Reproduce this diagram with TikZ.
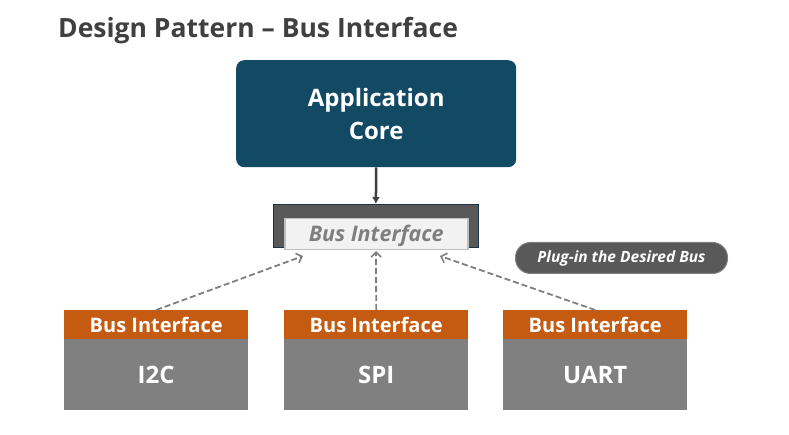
\documentclass[tikz,border=0pt]{standalone}
\usepackage{fontspec}
\setmainfont{Open Sans}
\usetikzlibrary{arrows.meta}
\definecolor{titlegray}{HTML}{404040}
\definecolor{coreblue}{HTML}{134A63}
\definecolor{darkbox}{HTML}{595959}
\definecolor{navyedge}{HTML}{1B3345}
\definecolor{innerfill}{HTML}{F2F2F2}
\definecolor{inneredge}{HTML}{BFBFBF}
\definecolor{midgray}{HTML}{7F7F7F}
\definecolor{busorange}{HTML}{C55A11}
\definecolor{busgray}{HTML}{808080}
\tikzset{
  headbox/.style={fill=busorange, draw=none, minimum width=184pt, minimum height=29pt, anchor=north west, inner sep=0pt, text=white, font=\bfseries\fontsize{20}{22}\selectfont},
  bodybox/.style={fill=busgray, draw=none, minimum width=184pt, minimum height=71pt, anchor=north west, inner sep=0pt, text=white, font=\bfseries\fontsize{24}{26}\selectfont},
  dasharrow/.style={draw=midgray, line width=1.8pt, dash pattern=on 6pt off 3pt, -{Straight Barb[length=5pt,width=10pt,line width=1.6pt]}},
}
\begin{document}
\begin{tikzpicture}[x=1pt,y=-1pt]
\useasboundingbox (0,0) rectangle (789,435);
\node[anchor=base west, inner sep=0pt, text=titlegray, font=\bfseries\fontsize{26.5}{30}\selectfont] (title) at (58,37.5) {Design Pattern -- Bus Interface};
\node[fill=coreblue, rounded corners=8pt, minimum width=280pt, minimum height=107pt, anchor=north west, inner sep=0pt, text=white, align=center, font=\bfseries\fontsize{24}{33}\selectfont] (core) at (236,60) {Application\\Core};
\node[fill=darkbox, draw=navyedge, line width=0.8pt, minimum width=205pt, minimum height=43pt, anchor=north west, inner sep=0pt] (outer) at (273,204) {};
\node[fill=innerfill, draw=inneredge, line width=1.5pt, minimum width=183pt, minimum height=31pt, anchor=north west, inner sep=0pt, text=midgray, text depth=2pt, font=\bfseries\itshape\fontsize{21.5}{24}\selectfont] (inner) at (284,218) {Bus Interface};
\draw[draw=titlegray, line width=2.5pt, -{Latex[length=7pt,width=8pt]}] (core.south) -- (outer.north);
\node[fill=darkbox, draw=midgray, line width=1pt, rounded corners=15pt, minimum width=212pt, minimum height=31pt, anchor=north west, inner sep=0pt, text=white, font=\bfseries\itshape\fontsize{15.5}{18}\selectfont] (plug) at (515,242) {Plug-in the Desired Bus};
% bottom boxes
\node[headbox] (i2chead) at (64,310) {Bus Interface};
\node[bodybox] (i2c) at (64,339) {I2C};
\node[headbox] (spihead) at (284,310) {Bus Interface};
\node[bodybox] (spi) at (284,339) {SPI};
\node[headbox] (uarthead) at (503,310) {Bus Interface};
\node[bodybox] (uart) at (503,339) {UART};
\coordinate (tipL) at (303,256);
\coordinate (tipC) at (376,251);
\coordinate (tipR) at (440,256);
\draw[dasharrow] (i2chead.north) -- (tipL);
\draw[dasharrow] (spihead.north) -- (tipC);
\draw[dasharrow] (uarthead.north) -- (tipR);
\end{tikzpicture}
\end{document}
